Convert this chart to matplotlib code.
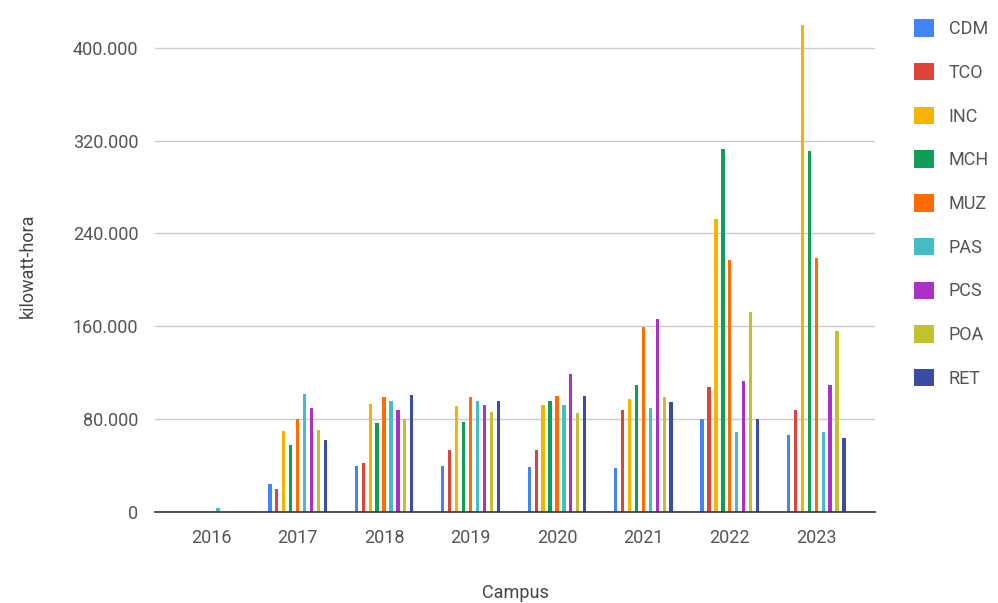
"""
Consumo anual de energia por campus - grafico de barras agrupadas
"""
import numpy as np
import matplotlib.pyplot as plt
from matplotlib.patches import Patch
from matplotlib.ticker import FuncFormatter

plt.rcParams['font.family'] = ['Roboto', 'DejaVu Sans']

years = ["2016", "2017", "2018", "2019", "2020", "2021", "2022", "2023"]
campus = ["CDM", "TCO", "INC", "MCH", "MUZ", "PAS", "PCS", "POA", "RET"]

# kWh por campus, um valor por ano (2016..2023)
cdm = [0, 24500, 39500, 40000, 38500, 38000, 80000, 66500]
tco = [0, 20000, 42500, 53000, 53000, 88000, 107500, 87500]
inc = [0, 70000, 93000, 91000, 92500, 97500, 252500, 420000]
mch = [0, 57500, 77000, 77500, 96000, 109000, 312500, 311000]
muz = [0, 80000, 99000, 99000, 100000, 159500, 217500, 219000]
pas = [3500, 101500, 96000, 96000, 92500, 89500, 69000, 69000]
pcs = [0, 89500, 88000, 92500, 118500, 166500, 113000, 109000]
poa = [0, 71000, 80000, 86500, 85000, 99000, 172000, 156000]
ret = [0, 62000, 100500, 96000, 100000, 94500, 80000, 63500]

series = [cdm, tco, inc, mch, muz, pas, pcs, poa, ret]
colors = ["#4285F4", "#DB4437", "#F4B400", "#0F9D58", "#FF6D00",
          "#46BDC6", "#AB30C4", "#C0C230", "#3B4BA8"]

fig = plt.figure(figsize=(9.98, 6.03), dpi=100)
ax = fig.add_axes([0.1553, 0.151, 0.7215, 0.816])

x = np.arange(len(years))
slot = 0.0802
for i, vals in enumerate(series):
    offs = (i - (len(series) - 1) / 2) * slot
    ax.bar(x + offs, vals, width=0.038, color=colors[i], zorder=3)

ax.set_xlim(-0.65, 7.68)
ax.set_ylim(0, 424000)
ax.set_yticks(np.arange(0, 400001, 80000))
ax.yaxis.set_major_formatter(FuncFormatter(lambda v, p: f"{int(v):,}".replace(",", ".")))
ax.set_xticks(x)
ax.set_xticklabels(years)

ax.grid(axis="y", color="#cccccc", linewidth=1, zorder=0)
for s in ["top", "right", "left"]:
    ax.spines[s].set_visible(False)
ax.spines["bottom"].set_color("#333333")
ax.spines["bottom"].set_linewidth(1.2)
ax.spines["bottom"].set_zorder(4)
ax.tick_params(axis="both", length=0, labelsize=13, labelcolor="#555555")
ax.tick_params(axis="y", pad=12)
ax.tick_params(axis="x", pad=12)

ax.set_xlabel("Campus", fontsize=13, color="#444444", labelpad=27)
ax.set_ylabel("kilowatt-hora", fontsize=13, color="#444444", labelpad=26)

handles = [Patch(facecolor=c, edgecolor="none") for c in colors]
fig.legend(handles, campus, loc="upper left", bbox_to_anchor=(0.909, 0.98),
           frameon=False, fontsize=13, labelcolor="#555555",
           handlelength=1.1, handleheight=1.1, handletextpad=0.8,
           labelspacing=1.38, borderaxespad=0)

plt.savefig("out.png", dpi=100)
